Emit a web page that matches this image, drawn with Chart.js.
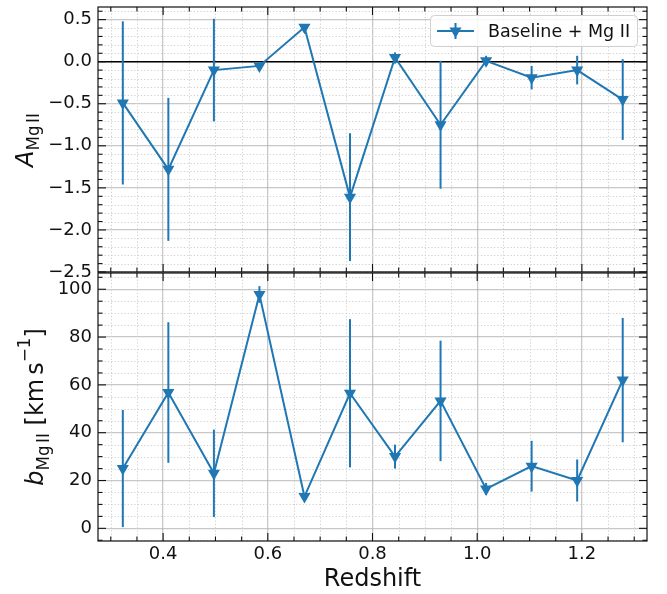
<!DOCTYPE html>
<html>
<head>
<meta charset="utf-8">
<script src="https://cdn.jsdelivr.net/npm/chart.js@4.4.0/dist/chart.umd.min.js"></script>
<style>
body { margin: 0; background: #fff; }
#wrap { position: relative; width: 667px; height: 594px; }
canvas { position: absolute; left: 0; }
#topChart { top: 0; }
#botChart { top: 266px; }
</style>
</head>
<body>
<div id="wrap">
<canvas id="topChart" width="667" height="280"></canvas>
<canvas id="botChart" width="667" height="328"></canvas>
</div>
<script>
// values
var redshift = [0.323, 0.410, 0.497, 0.584, 0.670, 0.757, 0.843, 0.930, 1.017, 1.104, 1.191, 1.278];
var ampMgII  = [-0.49, -1.28, -0.10, -0.05, 0.41, -1.61, 0.05, -0.75, 0.01, -0.19, -0.10, -0.45];
var ampErr   = [0.97, 0.85, 0.61, 0.04, 0.03, 0.76, 0.06, 0.76, 0.06, 0.14, 0.17, 0.48];
var bMgII    = [25.0, 56.8, 23.0, 97.8, 13.3, 56.5, 30.0, 53.3, 16.5, 26.0, 20.0, 62.0];
var bErr     = [24.5, 29.4, 18.3, 3.5, 1.5, 31.0, 5.0, 25.2, 2.5, 10.6, 8.8, 26.0];

var xTicks   = [0.4, 0.6, 0.8, 1.0, 1.2];
var ampTicks = [-2.5, -2.0, -1.5, -1.0, -0.5, 0.0, 0.5];
var bTicks   = [0, 20, 40, 60, 80, 100];
var seriesLabel = "Baseline + Mg II";
var xTitle = "Redshift";

var BLUE = "#1f77b4";
var FONT = "'DejaVu Sans', sans-serif";

var toPoints = function( xs, ys ){
    return xs.map(function(x, i){ return { x: x, y: ys[i] }; });
};

var fmt = function( v, digits ){
    return v.toFixed(digits).replace("-", "\u2212");
};

var minorValues = function( scale, step, major ){
    var out = [];
    var start = Math.ceil(scale.min / step);
    var end = Math.floor(scale.max / step);
    for (var k = start; k <= end; k++){
        var v = k * step;
        var r = v / major;
        if (Math.abs(r - Math.round(r)) > 1e-6) out.push(v);
    }
    return out;
};

var line = function( ctx, x1, y1, x2, y2 ){
    ctx.beginPath();
    ctx.moveTo(x1, y1);
    ctx.lineTo(x2, y2);
    ctx.stroke();
};

// error bars, drawn through the chart's own scales
var errorBars = {
    id: "errorBars",
    beforeDatasetsDraw: function( chart ){
        var ctx = chart.ctx, xs = chart.scales.x, ys = chart.scales.y;
        chart.data.datasets.forEach(function(ds){
            if (!ds.errors) return;
            ctx.save();
            ctx.strokeStyle = ds.borderColor;
            ctx.lineWidth = 2;
            ds.data.forEach(function(p, i){
                var px = xs.getPixelForValue(p.x);
                line(ctx, px, ys.getPixelForValue(p.y - ds.errors[i]), px, ys.getPixelForValue(p.y + ds.errors[i]));
            });
            ctx.restore();
        });
    }
};

// matplotlib-ish frame: dotted minor grid, inward ticks on all four sides
var mplFrame = {
    id: "mplFrame",
    beforeDatasetsDraw: function( chart, args, opts ){
        var ctx = chart.ctx, a = chart.chartArea;
        var xs = chart.scales.x, ys = chart.scales.y;
        ctx.save();
        ctx.strokeStyle = "#d2d2d2";
        ctx.lineWidth = 1;
        ctx.setLineDash([1.3, 2]);
        minorValues(xs, opts.xMinor, opts.xMajor).forEach(function(v){
            var p = Math.round(xs.getPixelForValue(v)) + 0.5;
            line(ctx, p, a.top, p, a.bottom);
        });
        minorValues(ys, opts.yMinor, opts.yMajor).forEach(function(v){
            var p = Math.round(ys.getPixelForValue(v)) + 0.5;
            line(ctx, a.left, p, a.right, p);
        });
        ctx.restore();
        if (opts.zeroLine){
            ctx.save();
            ctx.strokeStyle = "#000";
            ctx.lineWidth = 1.6;
            var y0 = ys.getPixelForValue(0);
            line(ctx, a.left, y0, a.right, y0);
            ctx.restore();
        }
    },
    afterDatasetsDraw: function( chart, args, opts ){
        var ctx = chart.ctx, a = chart.chartArea;
        var xs = chart.scales.x, ys = chart.scales.y;
        ctx.save();
        ctx.strokeStyle = "#111";
        ctx.lineWidth = 1.1;
        var drawX = function( vals, len ){
            vals.forEach(function(v){
                var p = xs.getPixelForValue(v);
                line(ctx, p, a.bottom, p, a.bottom - len);
                line(ctx, p, a.top, p, a.top + len);
            });
        };
        var drawY = function( vals, len ){
            vals.forEach(function(v){
                var p = ys.getPixelForValue(v);
                line(ctx, a.left, p, a.left + len, p);
                line(ctx, a.right, p, a.right - len, p);
            });
        };
        drawX(xs.ticks.map(function(t){ return t.value; }), 8);
        drawX(minorValues(xs, opts.xMinor, opts.xMajor), 4.5);
        drawY(ys.ticks.map(function(t){ return t.value; }), 8);
        drawY(minorValues(ys, opts.yMinor, opts.yMajor), 4.5);
        ctx.lineWidth = 1.2;
        ctx.strokeRect(a.left, a.top, a.right - a.left, a.bottom - a.top);
        ctx.restore();
    }
};

// rotated y label with sub/superscripts
var drawRotatedLabel = function( ctx, pieces, xBase, yCenter ){
    ctx.save();
    var total = 0;
    pieces.forEach(function(p){
        if (p.gap){ total += p.gap; return; }
        ctx.font = p.font;
        p.w = ctx.measureText(p.text).width;
        total += p.w;
    });
    ctx.translate(xBase, yCenter);
    ctx.rotate(-Math.PI / 2);
    ctx.fillStyle = "#111";
    ctx.textBaseline = "alphabetic";
    ctx.textAlign = "left";
    var x = -total / 2;
    pieces.forEach(function(p){
        if (p.gap){ x += p.gap; return; }
        ctx.font = p.font;
        ctx.fillText(p.text, x, p.dy || 0);
        x += p.w;
    });
    ctx.restore();
};

var yLabel = {
    id: "yLabel",
    afterDraw: function( chart, args, opts ){
        drawRotatedLabel(chart.ctx, opts.pieces, opts.x, opts.y);
    }
};

var legendBox = {
    id: "legendBox",
    afterDraw: function( chart, args, opts ){
        if (!opts.show) return;
        var ctx = chart.ctx;
        ctx.save();
        ctx.fillStyle = "rgba(255,255,255,0.85)";
        ctx.strokeStyle = "#d0d0d0";
        ctx.lineWidth = 1;
        ctx.beginPath();
        ctx.roundRect(430.5, 15.5, 207, 31, 4);
        ctx.fill();
        ctx.stroke();
        ctx.strokeStyle = BLUE;
        ctx.fillStyle = BLUE;
        ctx.lineWidth = 2;
        line(ctx, 437, 31, 474, 31);
        line(ctx, 455.5, 23, 455.5, 39);
        ctx.beginPath();
        ctx.moveTo(449.5, 27.5);
        ctx.lineTo(461.5, 27.5);
        ctx.lineTo(455.5, 38);
        ctx.closePath();
        ctx.fill();
        ctx.fillStyle = "#111";
        ctx.font = "17.5px " + FONT;
        ctx.textBaseline = "alphabetic";
        ctx.fillText(seriesLabel, 488, 37);
        ctx.restore();
    }
};

var datasetStyle = function( data, errors ){
    return {
        label: seriesLabel,
        data: data,
        errors: errors,
        borderColor: BLUE,
        backgroundColor: BLUE,
        borderWidth: 2,
        pointStyle: "triangle",
        rotation: 180,
        pointRadius: 7,
        pointBorderWidth: 0,
        pointBackgroundColor: BLUE,
        tension: 0
    };
};

// the library reserves room for half a label at the axis ends; drop it so the panels sit where matplotlib put them
var noEndPadding = function( scale ){
    scale.paddingTop = 0;
    scale.paddingBottom = 0;
    scale.paddingLeft = 0;
    scale.paddingRight = 0;
};

var xScale = function( showLabels ){
    return {
        type: "linear",
        min: 0.2756,
        max: 1.3244,
        afterBuildTicks: function(scale){ scale.ticks = xTicks.map(function(v){ return { value: v }; }); },
        afterFit: function(scale){ scale.height = showLabels ? 53 : 0; noEndPadding(scale); },
        grid: { color: "rgba(170,170,170,0.65)", lineWidth: 1.3, drawTicks: false },
        border: { display: false },
        ticks: {
            display: showLabels,
            padding: 3,
            color: "#111",
            font: { family: FONT, size: 18 },
            maxRotation: 0,
            callback: function(v){ return fmt(v, 1); }
        },
        title: {
            display: showLabels,
            text: xTitle,
            color: "#111",
            font: { family: FONT, size: 24 },
            padding: { top: 0, bottom: 0 }
        }
    };
};

var yScale = function( min, max, ticks, digits ){
    return {
        type: "linear",
        min: min,
        max: max,
        afterBuildTicks: function(scale){ scale.ticks = ticks.map(function(v){ return { value: v }; }); },
        afterFit: function(scale){ scale.width = 98; noEndPadding(scale); },
        grid: { color: "rgba(170,170,170,0.65)", lineWidth: 1.3, drawTicks: false },
        border: { display: false },
        ticks: {
            padding: 6,
            color: "#111",
            autoSkip: false,
            font: { family: FONT, size: 18 },
            callback: function(v){ return fmt(v, digits); }
        }
    };
};

var subFont = "16.8px " + FONT;
var mainFont = "24px " + FONT;
var italFont = "italic 24px " + FONT;

var topChart = new Chart(document.getElementById("topChart"), {
    type: "line",
    data: { datasets: [ datasetStyle(toPoints(redshift, ampMgII), ampErr) ] },
    options: {
        responsive: false,
        animation: false,
        devicePixelRatio: 1,
        layout: { padding: { left: 0, right: 20, top: 6, bottom: 8 } },
        scales: { x: xScale(false), y: yScale(-2.5, 0.65, ampTicks, 1) },
        plugins: {
            legend: { display: false },
            tooltip: { enabled: false },
            mplFrame: { xMinor: 0.05, xMajor: 0.2, yMinor: 0.1, yMajor: 0.5, zeroLine: true },
            yLabel: {
                x: 33, y: 140,
                pieces: [
                    { text: "A", font: italFont },
                    { text: "Mg", font: subFont, dy: 6 },
                    { gap: 2.5 },
                    { text: "II", font: subFont, dy: 6 }
                ]
            },
            legendBox: { show: true }
        }
    },
    plugins: [ mplFrame, errorBars, yLabel, legendBox ]
});

var botChart = new Chart(document.getElementById("botChart"), {
    type: "line",
    data: { datasets: [ datasetStyle(toPoints(redshift, bMgII), bErr) ] },
    options: {
        responsive: false,
        animation: false,
        devicePixelRatio: 1,
        layout: { padding: { left: 0, right: 20, top: 7, bottom: 0 } },
        scales: { x: xScale(true), y: yScale(-5.3, 106.8, bTicks, 0) },
        plugins: {
            legend: { display: false },
            tooltip: { enabled: false },
            mplFrame: { xMinor: 0.05, xMajor: 0.2, yMinor: 5, yMajor: 20, zeroLine: false },
            yLabel: {
                x: 43, y: 141,
                pieces: [
                    { text: "b", font: italFont },
                    { text: "Mg", font: subFont, dy: 6 },
                    { gap: 2.5 },
                    { text: "II", font: subFont, dy: 6 },
                    { text: " [km", font: mainFont },
                    { gap: 4 },
                    { text: "s", font: mainFont },
                    { text: "\u22121", font: subFont, dy: -13 },
                    { text: "]", font: mainFont }
                ]
            },
            legendBox: { show: false }
        }
    },
    plugins: [ mplFrame, errorBars, yLabel, legendBox ]
});
</script>
</body>
</html>
